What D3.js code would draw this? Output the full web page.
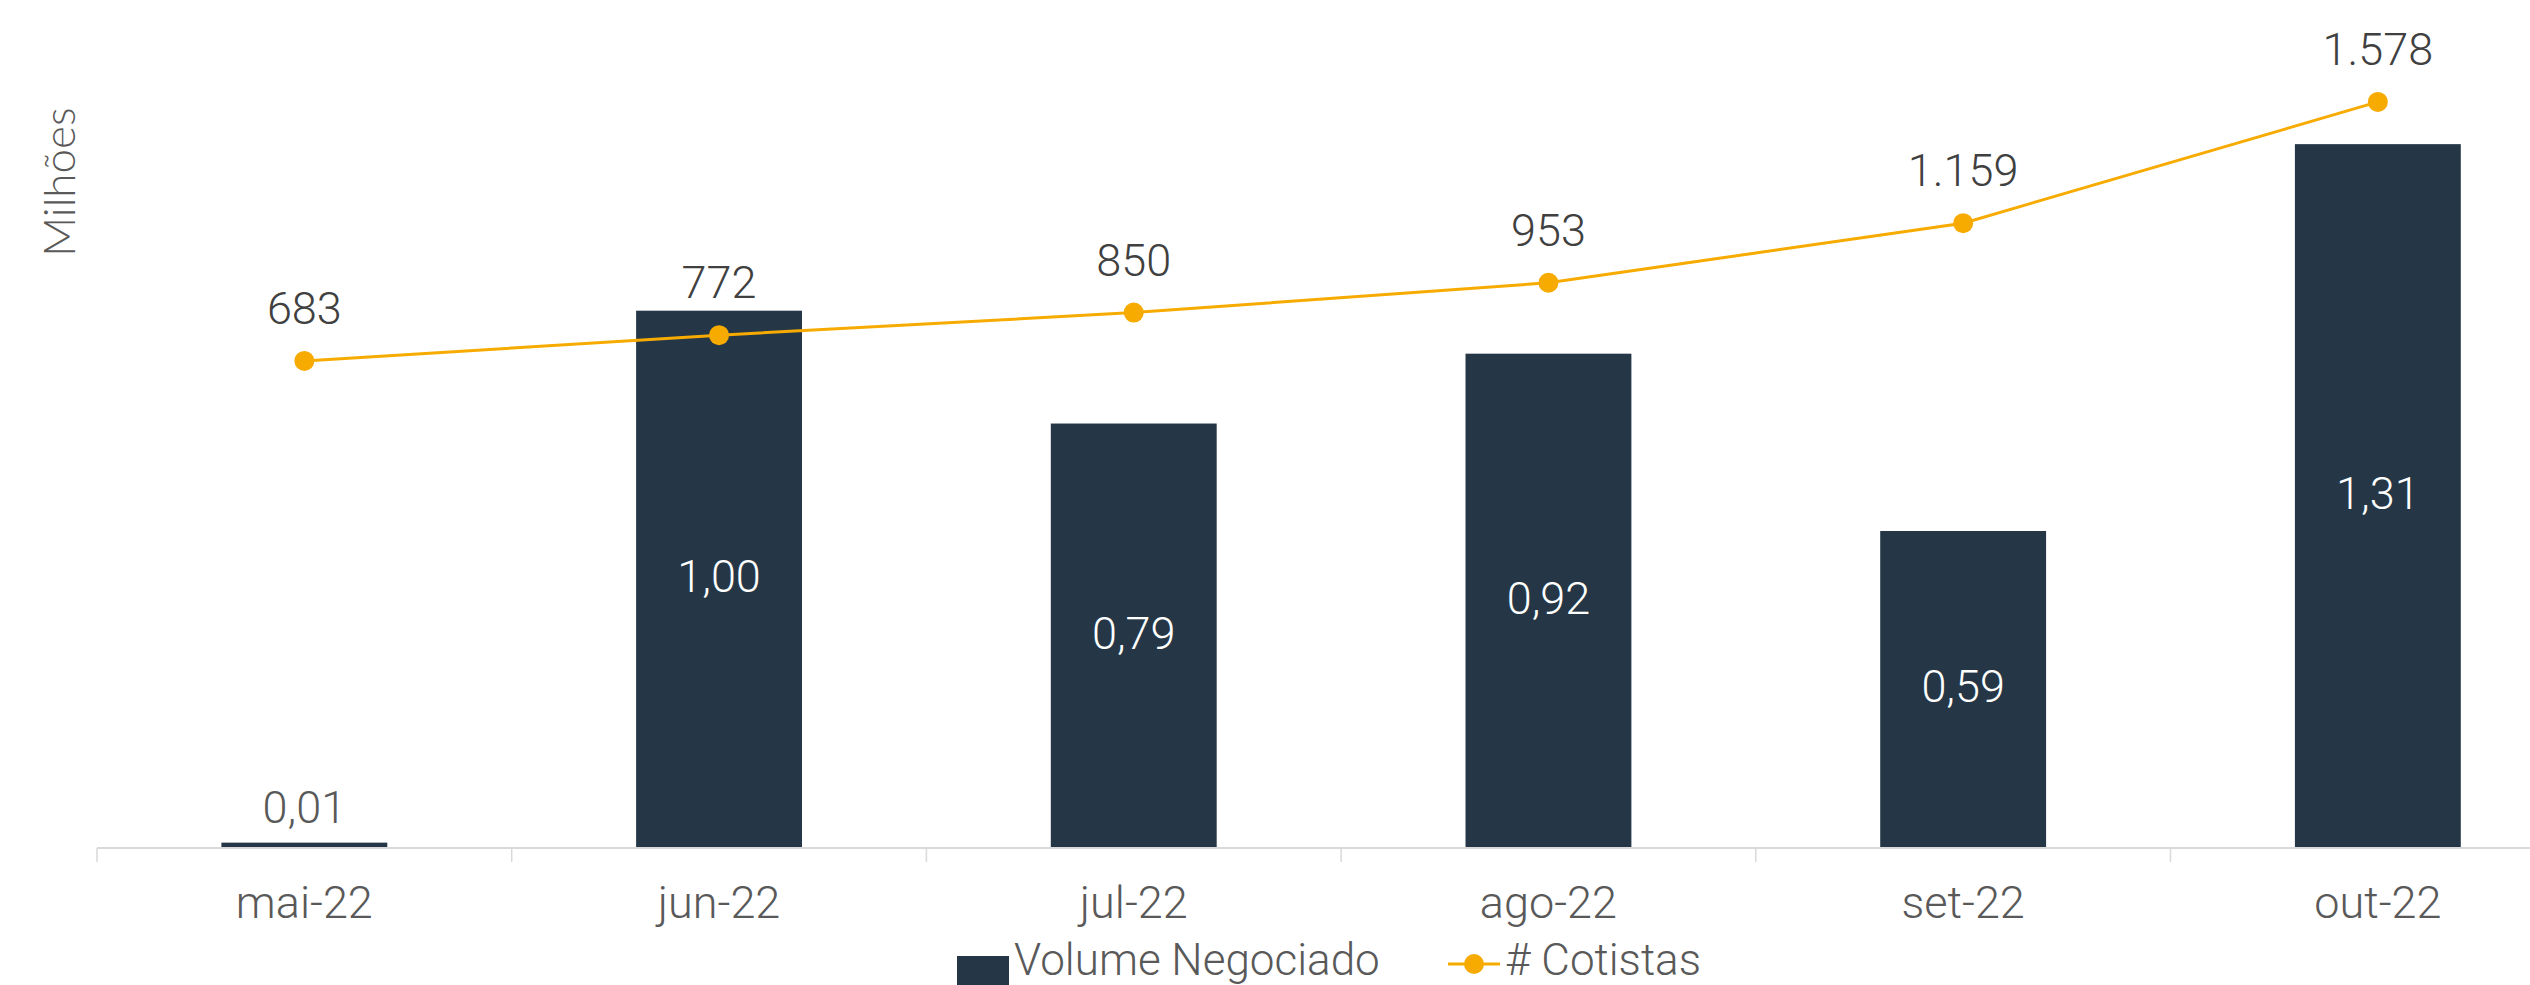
<!DOCTYPE html>
<html lang="pt">
  <head>
    <meta charset="UTF-8" />
    <title>Volume Negociado e Cotistas</title>
    <script src="https://d3js.org/d3.v7.min.js"></script>
    <style>
      body {
        margin: 0;
        background: #ffffff;
        overflow: hidden;
      }
      svg {
        display: block;
        font-family: Roboto, sans-serif;
        font-weight: 300;
      }
    </style>
  </head>
  <body>
    <svg width="2530" height="985"></svg>

    <script>
      const months = ['mai-22', 'jun-22', 'jul-22', 'ago-22', 'set-22', 'out-22'];
      const volume = [0.01, 1.0, 0.79, 0.92, 0.59, 1.31];
      const cotistas = [683, 772, 850, 953, 1159, 1578];

      const data = months.map((m, i) => ({
        month: m,
        vol: volume[i],
        cot: cotistas[i],
      }));

      const ptBR = d3.formatLocale({
        decimal: ',',
        thousands: '.',
        grouping: [3],
        currency: ['R$', ''],
      });
      const fmtVol = ptBR.format('.2f');
      const fmtCot = ptBR.format(',d');

      const baseY = 848,
        left = 97,
        step = 414.7;

      const svg = d3.select('svg');

      // category scale (the chart runs past the right edge of the picture)
      const x = d3
        .scaleBand()
        .domain(months)
        .range([left, left + months.length * step]);

      const xBar = d3
        .scaleBand()
        .domain(months)
        .range(x.range())
        .paddingInner(0.6)
        .paddingOuter(0.3);

      const y = d3
        .scaleLinear()
        .domain([0, 1.6])
        .range([baseY, baseY - 1.6 * 537.3]);

      const y2 = d3
        .scaleLinear()
        .domain([-1000, 2000])
        .range([baseY, baseY - 3000 * 0.2894]);

      // bars
      svg
        .append('g')
        .selectAll('rect')
        .data(data)
        .join('rect')
        .attr('x', (d) => xBar(d.month))
        .attr('y', (d) => y(d.vol))
        .attr('width', xBar.bandwidth())
        .attr('height', (d) => baseY - y(d.vol))
        .attr('fill', '#253746');

      // x axis line + boundary ticks
      const axis = svg.append('g');
      axis
        .append('line')
        .attr('x1', x.range()[0])
        .attr('x2', x.range()[1])
        .attr('y1', baseY)
        .attr('y2', baseY)
        .attr('stroke', '#d9d9d9')
        .attr('stroke-width', 2);

      axis
        .selectAll('.tick')
        .data(months)
        .join('line')
        .attr('x1', (d) => x(d))
        .attr('x2', (d) => x(d))
        .attr('y1', baseY)
        .attr('y2', baseY + 14)
        .attr('stroke', '#d9d9d9')
        .attr('stroke-width', 1.5);

      axis
        .selectAll('.lbl')
        .data(months)
        .join('text')
        .attr('x', (d) => x(d) + x.bandwidth() / 2)
        .attr('y', 918)
        .attr('text-anchor', 'middle')
        .attr('font-size', 45)
        .attr('fill', '#595959')
        .text((d) => d);

      // bar labels
      svg
        .append('g')
        .selectAll('text')
        .data(data)
        .join('text')
        .attr('x', (d) => x(d.month) + x.bandwidth() / 2)
        .attr('y', (d) =>
          d.vol < 0.1 ? y(d.vol) - 20 : (y(d.vol) + baseY) / 2 + 13,
        )
        .attr('text-anchor', 'middle')
        .attr('font-size', 45)
        .attr('fill', (d) => (d.vol < 0.1 ? '#595959' : '#ffffff'))
        .text((d) => fmtVol(d.vol));

      // line
      const line = d3
        .line()
        .x((d) => x(d.month) + x.bandwidth() / 2)
        .y((d) => y2(d.cot));

      svg
        .append('path')
        .datum(data)
        .attr('d', line)
        .attr('fill', 'none')
        .attr('stroke', '#f7ab00')
        .attr('stroke-width', 3);

      svg
        .append('g')
        .selectAll('circle')
        .data(data)
        .join('circle')
        .attr('cx', (d) => x(d.month) + x.bandwidth() / 2)
        .attr('cy', (d) => y2(d.cot))
        .attr('r', 10)
        .attr('fill', '#f7ab00');

      svg
        .append('g')
        .selectAll('text')
        .data(data)
        .join('text')
        .attr('x', (d) => x(d.month) + x.bandwidth() / 2)
        .attr('y', (d) => y2(d.cot) - 37)
        .attr('text-anchor', 'middle')
        .attr('font-size', 45)
        .attr('fill', '#404040')
        .text((d) => fmtCot(d.cot));

      // axis title
      svg
        .append('text')
        .attr('transform', 'translate(75,182) rotate(-90)')
        .attr('text-anchor', 'middle')
        .attr('font-family', 'Lato, sans-serif')
        .attr('font-weight', 300)
        .attr('font-size', 44)
        .attr('fill', '#595959')
        .text('Milhões');

      // legend
      const legend = svg.append('g');
      legend
        .append('rect')
        .attr('x', 957)
        .attr('y', 956)
        .attr('width', 52)
        .attr('height', 52)
        .attr('fill', '#253746');
      legend
        .append('text')
        .attr('x', 1014)
        .attr('y', 975)
        .attr('font-size', 44)
        .attr('fill', '#595959')
        .text('Volume Negociado');
      legend
        .append('line')
        .attr('x1', 1448)
        .attr('x2', 1500)
        .attr('y1', 964)
        .attr('y2', 964)
        .attr('stroke', '#f7ab00')
        .attr('stroke-width', 3);
      legend
        .append('circle')
        .attr('cx', 1474)
        .attr('cy', 964)
        .attr('r', 10)
        .attr('fill', '#f7ab00');
      legend
        .append('text')
        .attr('x', 1505)
        .attr('y', 975)
        .attr('font-size', 44)
        .attr('fill', '#595959')
        .text('# Cotistas');
    </script>
  </body>
</html>
